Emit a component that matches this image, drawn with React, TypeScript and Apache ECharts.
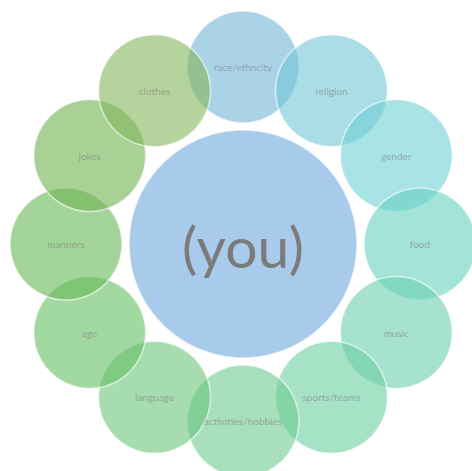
import React, { useEffect, useRef } from "react";
import * as echarts from "echarts";

// Categories around the ring, clockwise from the top
const categories: string[] = [
  "race/ethncity",
  "religion",
  "gender",
  "food",
  "music",
  "sports/teams",
  "activities/hobbies",
  "language",
  "age",
  "manners",
  "jokes",
  "clothes",
];
// Each item sits on the ring (radius value 1)
const ringValues: number[] = [1, 1, 1, 1, 1, 1, 1, 1, 1, 1, 1, 1];
const centerLabel = "(you)";
const centerValue = 0;

const COLORS = [
  "#73b6d9",
  "#71c6d5",
  "#6ed0d5",
  "#66d0be",
  "#6bcfaf",
  "#6bcfa0",
  "#6ecb91",
  "#6bc57b",
  "#64c062",
  "#66b757",
  "#70b250",
  "#84b65c",
];

export default function App() {
  const ref = useRef<HTMLDivElement>(null);
  useEffect(() => {
    if (!ref.current) return;
    const chart = echarts.init(ref.current, undefined, { renderer: "svg" });
    chart.setOption({
      animation: false,
      backgroundColor: "#ffffff",
      polar: { center: [243, 244], radius: 177 },
      angleAxis: {
        type: "category",
        data: categories,
        startAngle: 90,
        clockwise: true,
        boundaryGap: false,
        show: false,
      },
      radiusAxis: { type: "value", min: 0, max: 1, show: false },
      series: [
        {
          type: "scatter",
          coordinateSystem: "polar",
          symbol: "circle",
          symbolSize: 228,
          z: 1,
          data: [
            {
              name: centerLabel,
              value: [centerValue, 0],
              itemStyle: { color: "#a9cbeb", opacity: 1 },
            },
          ],
          itemStyle: { borderColor: "rgba(255,255,255,0.6)", borderWidth: 1.5 },
          label: {
            show: true,
            position: "inside",
            formatter: "{b}",
            color: "#7b7b7b",
            fontSize: 57,
            fontFamily: "Lato",
            offset: [0, 2],
          },
          emphasis: { disabled: true },
        },
        {
          type: "scatter",
          coordinateSystem: "polar",
          symbol: "circle",
          symbolSize: 112,
          z: 2,
          data: categories.map((c, i) => ({
            name: c,
            value: [ringValues[i], i],
            itemStyle: { color: COLORS[i], opacity: 0.6 },
          })),
          itemStyle: { borderColor: "#ffffff", borderWidth: 1.5 },
          label: {
            show: true,
            position: "inside",
            formatter: "{b}",
            color: "#7f7f7f",
            fontSize: 10,
            fontFamily: "Lato",
          },
          emphasis: { disabled: true },
        },
      ],
    });
    return () => chart.dispose();
  }, []);
  return (
    <div
      ref={ref}
      style={{ position: "absolute", left: 0, top: 0, width: 472, height: 471 }}
    />
  );
}
